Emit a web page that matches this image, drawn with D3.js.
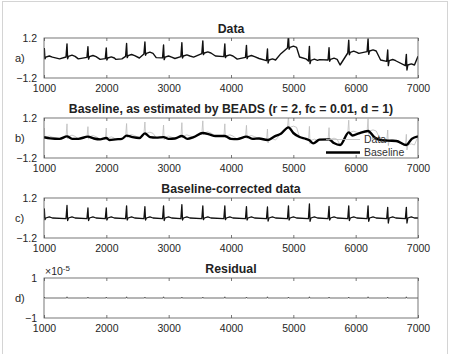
<!DOCTYPE html>
<html>
<head>
<meta charset="utf-8">
<script src="https://cdn.jsdelivr.net/npm/d3@7"></script>
<style>
  body { margin: 0; background: #fff; }
  svg { display: block; font-family: "Liberation Sans", Arial, sans-serif; }
  .tick text { fill: #262626; }
</style>
</head>
<body>
<div id="chart"></div>
<script>
// values
var xTicks = [1000, 2000, 3000, 4000, 5000, 6000, 7000];
var panelTitles = ["Data", "Baseline, as estimated by BEADS (r = 2, fc = 0.01, d = 1)", "Baseline-corrected data", "Residual"];
var panelLabels = ["a)", "b)", "c)", "d)"];

// R-peak positions, R height and S depth (baseline-corrected units)
var beatX = [1005, 1369, 1705, 1999, 2325, 2619, 2918, 3212, 3548, 3901, 4248, 4585, 4922, 5258, 5573, 5889, 6199, 6514, 6813];
var beatR = [0.55, 0.75, 0.6, 0.6, 0.73, 0.68, 0.73, 0.8, 0.73, 0.73, 0.68, 0.66, 0.73, 0.84, 0.7, 0.73, 0.73, 0.64, 0.64];
var beatS = [0.1, 0.15, 0.15, 0.12, 0.12, 0.12, 0.15, 0.12, 0.1, 0.1, 0.12, 0.18, 0.12, 0.2, 0.12, 0.15, 0.2, 0.3, 0.3];

// estimated baseline (knots)
var baseX = [1000, 1100, 1250, 1369, 1450, 1550, 1705, 1800, 1900, 1999, 2050, 2150, 2250, 2325, 2420, 2530, 2619, 2700, 2800, 2918,
             3000, 3100, 3212, 3300, 3400, 3548, 3650, 3750, 3901, 4000, 4100, 4248, 4350, 4450, 4585, 4700, 4800, 4922, 5000,
             5100, 5200, 5258, 5320, 5420, 5573, 5650, 5750, 5889, 5950, 6050, 6199, 6300, 6400, 6514, 6650, 6813, 6900, 7000];
var baseY = [0.05, -0.02, -0.05, 0.1, -0.05, -0.05, 0.08, -0.03, -0.08, 0.0, -0.12, -0.08, -0.05, 0.14, 0.05, 0.0, 0.28, 0.05, 0.02, 0.05,
             -0.05, -0.03, 0.12, -0.05, 0.05, 0.3, 0.22, 0.12, 0.12, -0.05, -0.07, 0.08, -0.05, -0.03, -0.12, 0.1, 0.26, 0.64, 0.3,
             0.06, -0.05, -0.14, -0.32, -0.1, -0.08, -0.3, -0.42, 0.34, 0.15, 0.28, 0.42, 0.05, -0.12, -0.16, -0.18, -0.42, -0.05, 0.1];

// residual (x 1e-5) at the beats
var residY = [0.05, 0.06, 0.05, 0.05, 0.06, 0.05, 0.06, 0.05, 0.05, 0.06, 0.05, 0.06, 0.05, 0.06, 0.05, 0.05, 0.06, 0.05, 0.06];

var W = 451, H = 354;
var left = 44, right = 418;
var panelTop = [38, 118, 198, 278];
var panelH = 40;

var svg = d3.select("#chart").append("svg").attr("width", W).attr("height", H);

svg.append("rect").attr("x", 2.5).attr("y", 1.5).attr("width", 445).attr("height", 370)
   .attr("fill", "none").attr("stroke", "#d4d4d4").attr("stroke-width", 1);

var x = d3.scaleLinear().domain([1000, 7000]).range([left, right]);

function footAt(bx) {
  var best = 0;
  baseX.forEach(function(v, i) { if (Math.abs(v - bx) < Math.abs(baseX[best] - bx)) best = i; });
  return baseY[best];
}

function beatShape(i, foot) {
  var bx = beatX[i];
  return [[bx - 16, foot - 0.04], [bx, foot + beatR[i]], [bx + 10, foot - beatS[i]],
          [bx + 24, foot], [bx + 80, foot + 0.07], [bx + 130, foot]];
}

// corrected ECG
var corrected = [[1000, 0]];
beatX.forEach(function(bx, i) { corrected = corrected.concat(beatShape(i, 0)); });
corrected.push([7000, 0]);
corrected = corrected.filter(function(p) { return p[0] >= 1000 && p[0] <= 7000; });

// raw data = baseline knots + beats on top of their baseline
var raw = [];
baseX.forEach(function(bx, i) {
  var inBeat = beatX.some(function(b) { return bx >= b - 20 && bx <= b + 135; });
  if (!inBeat) raw.push([bx, baseY[i]]);
});
beatX.forEach(function(bx, i) { raw = raw.concat(beatShape(i, footAt(bx))); });
raw = raw.filter(function(p) { return p[0] >= 1000 && p[0] <= 7000; })
         .sort(function(a, b) { return a[0] - b[0]; });

var baseline = baseX.map(function(v, i) { return [v, baseY[i]]; });

var resid = [[1000, 0]];
beatX.forEach(function(bx, i) { resid.push([bx - 6, 0], [bx, residY[i]], [bx + 6, 0]); });
resid.push([7000, 0]);
resid = resid.filter(function(p) { return p[0] >= 1000 && p[0] <= 7000; });

function panel(k, yDom, yTicks, yFmt) {
  var top = panelTop[k];
  var y = d3.scaleLinear().domain(yDom).range([top + panelH, top]);
  var g = svg.append("g");

  g.append("defs").append("clipPath").attr("id", "clip" + k)
   .append("rect").attr("x", left).attr("y", top).attr("width", right - left).attr("height", panelH);

  var plot = g.append("g").attr("clip-path", "url(#clip" + k + ")");

  g.append("text").attr("x", (left + right) / 2).attr("y", top - 5)
   .attr("text-anchor", "middle").attr("font-size", "12.3px").attr("font-weight", "bold")
   .attr("fill", "#222").text(panelTitles[k]);

  g.append("text").attr("x", 15).attr("y", top + panelH / 2 + 4)
   .attr("font-size", "11px").attr("fill", "#262626").text(panelLabels[k]);

  var xb = g.append("g").attr("transform", "translate(0," + (top + panelH) + ")")
    .call(d3.axisBottom(x).tickValues(xTicks).tickSizeInner(-3).tickSizeOuter(0).tickPadding(7).tickFormat(d3.format("d")));
  var xt = g.append("g").attr("transform", "translate(0," + top + ")")
    .call(d3.axisTop(x).tickValues(xTicks).tickSizeInner(-3).tickSizeOuter(0).tickFormat(""));
  var yl = g.append("g").attr("transform", "translate(" + left + ",0)")
    .call(d3.axisLeft(y).tickValues(yTicks).tickSizeInner(0).tickSizeOuter(0).tickPadding(7).tickFormat(yFmt));
  [xb, xt, yl].forEach(function(a) {
    a.select(".domain").remove();
    a.selectAll("line").attr("stroke", "#555").attr("stroke-width", 0.8);
    a.selectAll("text").attr("font-size", "10.5px").attr("font-family", "Liberation Sans, Arial, sans-serif");
  });

  return { g: g, plot: plot, y: y, top: top };
}

function box(p) {
  p.g.append("rect").attr("x", left).attr("y", p.top).attr("width", right - left).attr("height", panelH)
   .attr("fill", "none").attr("stroke", "#555").attr("stroke-width", 0.8);
}

function lineFor(y, curve) {
  return d3.line().x(function(d) { return x(d[0]); }).y(function(d) { return y(d[1]); }).curve(curve || d3.curveLinear);
}

// a) data
var pa = panel(0, [-1.2, 1.2], [-1.2, 1.2], d3.format(".1f"));
pa.plot.append("path").datum(raw).attr("d", lineFor(pa.y))
  .attr("fill", "none").attr("stroke", "#111").attr("stroke-width", 1.4).attr("stroke-linejoin", "round");
box(pa);

// b) baseline
var pb = panel(1, [-1.2, 1.2], [-1.2, 1.2], d3.format(".1f"));
pb.plot.append("path").datum(raw).attr("d", lineFor(pb.y))
  .attr("fill", "none").attr("stroke", "#bdbdbd").attr("stroke-width", 0.8);
pb.plot.append("path").datum(baseline).attr("d", lineFor(pb.y, d3.curveMonotoneX))
  .attr("fill", "none").attr("stroke", "#000").attr("stroke-width", 2.4).attr("stroke-linejoin", "round");
box(pb);

var legend = pb.g.append("g");
var legendItems = [{ name: "Data", color: "#bdbdbd", w: 0.8 }, { name: "Baseline", color: "#000", w: 2.4 }];
legendItems.forEach(function(d, i) {
  var ly = 139.5 + i * 13;
  legend.append("line").attr("x1", 326).attr("x2", 360).attr("y1", ly).attr("y2", ly)
    .attr("stroke", d.color).attr("stroke-width", d.w);
  legend.append("text").attr("x", 364).attr("y", ly + 3.5).attr("font-size", "10.5px")
    .attr("fill", "#333").text(d.name);
});

// c) corrected
var pc = panel(2, [-1.2, 1.2], [-1.2, 1.2], d3.format(".1f"));
pc.plot.append("path").datum(corrected).attr("d", lineFor(pc.y))
  .attr("fill", "none").attr("stroke", "#111").attr("stroke-width", 1.3).attr("stroke-linejoin", "round");
box(pc);

// d) residual
var pd = panel(3, [-1, 1], [-1, 1], d3.format("d"));
pd.plot.append("path").datum(resid).attr("d", lineFor(pd.y))
  .attr("fill", "none").attr("stroke", "#444").attr("stroke-width", 0.8);
box(pd);
var ex = pd.g.append("text").attr("x", 45).attr("y", pd.top - 3).attr("font-size", "10.5px").attr("fill", "#262626");
ex.append("tspan").text("\u00d710");
ex.append("tspan").attr("dy", -4).attr("font-size", "8px").text("-5");
</script>
</body>
</html>
